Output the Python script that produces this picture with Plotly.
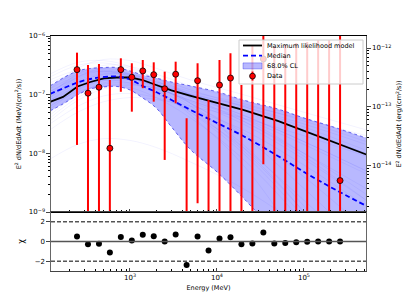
import numpy as np
import plotly.graph_objects as go
from plotly.subplots import make_subplots

MEV_TO_ERG = 1.602176634e-6

# ---- data points (MeV ; MeV cm^-2 s^-1) ----
energy = [246, 329, 440, 587, 785, 1050, 1403, 1875, 2506, 3350, 4477, 5984, 7998,
          10690, 14290, 19100, 25530, 34120, 45600, 60950, 81470, 108900, 145500,
          194500, 260000]
flux = [2.67e-7, 1.06e-7, 1.34e-7, 1.22e-8, 2.67e-7, 1.98e-7, 2.54e-7, 2.19e-7,
        1.26e-7, 2.23e-7, 1e-11, 1.73e-7, 1e-11, 1.46e-7, 1.92e-7, 1e-11, 1e-11,
        4.06e-7, 1e-11, 1e-11, 1e-11, 1e-11, 1e-11, 1e-11, 3.43e-9]
flux_hi = [5.20e-7, 3.21e-7, 3.33e-7, 1.78e-7, 4.17e-7, 3.43e-7, 3.90e-7, 3.56e-7,
           2.47e-7, 3.65e-7, 3.96e-8, 3.43e-7, 8.13e-8, 3.90e-7, 5.07e-7, 1.46e-7,
           7.0e-7, 1.1e-6, 6.5e-7, 7.0e-7, 7.6e-7, 7.9e-7, 8.5e-7, 8.5e-7, 1.1e-6]
flux_lo = [1.39e-8, 1e-12, 1e-12, 1e-12, 1.12e-7, 5.13e-8, 1.29e-7, 7.60e-8,
           7.72e-9, 7.13e-8, 1e-12, 1.41e-9, 1e-12, 1e-12, 1e-12, 1e-12, 1e-12,
           6.52e-9, 1e-12, 1e-12, 1e-12, 1e-12, 1e-12, 1e-12, 1e-12]
residual = [0.51, -0.27, -0.24, -1.12, 0.47, 0.10, 0.68, 0.54, 0.00, 0.71, -2.40,
            0.51, -0.92, 0.31, 0.44, -0.27, -0.20, 0.92, -0.20, -0.14, -0.07,
            -0.03, 0.0, 0.0, 0.0]

# ---- model curves (log10 of MeV cm^-2 s^-1) ----
curve_energy = [120, 170, 250, 350, 500, 700, 1000, 1400, 2000, 3000, 5000, 10000,
                20000, 50000, 100000, 200000, 520000]
ml_log = [-7.124, -7.039, -6.860, -6.784, -6.724, -6.707, -6.707, -6.750, -6.835,
          -6.928, -7.022, -7.141, -7.261, -7.448, -7.618, -7.797, -8.019]
median_log = [-6.988, -6.894, -6.792, -6.733, -6.698, -6.690, -6.741, -6.852, -6.954,
              -7.090, -7.262, -7.482, -7.704, -8.044, -8.317, -8.572, -8.896]
band_hi_log = [-6.852, -6.716, -6.596, -6.554, -6.537, -6.537, -6.596, -6.664,
               -6.716, -6.784, -6.852, -6.950, -7.090, -7.244, -7.397, -7.533, -7.738]
band_lo_log = [-7.278, -7.158, -7.005, -6.903, -6.869, -6.860, -6.920, -7.056,
               -7.227, -7.550, -7.942, -8.317, -8.760, -9.390, -9.850, -10.327, -10.923]

# ---- posterior sample curves (log10 flux) ----
sample_energy = [120, 250, 500, 1000, 2000, 5000, 20000, 100000, 520000]
sample_log = [
    [-6.90, -6.55, -6.40, -6.42, -6.55, -6.75, -7.00, -7.30, -7.60],
    [-7.00, -6.65, -6.50, -6.52, -6.65, -6.85, -7.10, -7.40, -7.75],
    [-6.95, -6.72, -6.62, -6.65, -6.78, -7.00, -7.40, -8.00, -8.70],
    [-7.10, -6.80, -6.65, -6.66, -6.78, -6.95, -7.15, -7.45, -7.80],
    [-7.05, -6.78, -6.66, -6.70, -6.86, -7.15, -7.70, -8.60, -9.60],
    [-7.20, -6.90, -6.73, -6.72, -6.82, -7.00, -7.25, -7.60, -8.00],
    [-6.85, -6.65, -6.60, -6.70, -6.92, -7.30, -8.00, -9.10, -10.5],
    [-7.25, -6.92, -6.76, -6.74, -6.84, -7.05, -7.35, -7.80, -8.30],
    [-6.80, -6.62, -6.58, -6.66, -6.85, -7.20, -7.85, -8.90, -10.2],
    [-7.35, -7.00, -6.80, -6.75, -6.82, -6.98, -7.20, -7.50, -7.85],
    [-7.15, -6.85, -6.70, -6.72, -6.88, -7.12, -7.50, -8.10, -8.80],
    [-6.75, -6.58, -6.55, -6.65, -6.90, -7.35, -8.20, -9.60, -11.0],
    [-7.45, -7.10, -6.90, -6.84, -6.88, -7.00, -7.18, -7.42, -7.70],
    [-7.00, -6.75, -6.64, -6.68, -6.85, -7.15, -7.65, -8.40, -9.30],
    [-7.60, -7.30, -7.12, -7.05, -7.08, -7.20, -7.40, -7.70, -8.05],
    [-8.10, -7.85, -7.75, -7.78, -7.90, -8.15, -8.60, -9.30, -10.2],
    [-6.65, -6.45, -6.42, -6.52, -6.75, -7.15, -7.90, -9.00, -10.4],
    [-7.10, -6.86, -6.76, -6.80, -6.98, -7.30, -7.90, -8.80, -9.80],
    [-7.30, -6.98, -6.82, -6.80, -6.90, -7.10, -7.45, -8.00, -8.60],
    [-6.95, -6.70, -6.60, -6.64, -6.80, -7.05, -7.45, -8.05, -8.80],
    [-7.50, -7.20, -7.02, -6.98, -7.05, -7.25, -7.60, -8.20, -8.90],
    [-6.70, -6.50, -6.46, -6.55, -6.72, -7.00, -7.35, -7.80, -8.30],
    [-7.05, -6.70, -6.55, -6.58, -6.72, -6.92, -7.20, -7.55, -7.95],
    [-7.20, -6.95, -6.85, -6.88, -7.05, -7.40, -8.10, -9.20, -10.6],
    [-6.90, -6.68, -6.60, -6.68, -6.88, -7.25, -7.95, -9.00, -10.3],
    [-7.40, -7.05, -6.86, -6.82, -6.90, -7.10, -7.40, -7.85, -8.35],
]

chi_solid = [0]
chi_dashed = [-2, 2]

x_range_log = [2.092, 5.713]
y_range_log = [-9, -6]
chi_range = [-3, 3]

flux_tickvals = [1e-9, 1e-8, 1e-7, 1e-6]
flux_ticktext = ["10<sup>−9</sup>", "10<sup>−8</sup>", "10<sup>−7</sup>", "10<sup>−6</sup>"]
erg_tickvals = [1e-14, 1e-13, 1e-12]
erg_ticktext = ["10<sup>−14</sup>", "10<sup>−13</sup>", "10<sup>−12</sup>"]
energy_tickvals = [1e3, 1e4, 1e5]
energy_ticktext = ["10<sup>3</sup>", "10<sup>4</sup>", "10<sup>5</sup>"]
chi_tickvals = [-2, 0, 2]

legend_labels = ["Maximum likelihood model", "Median", "68.0% CL", "Data"]


def minor_log_ticks(e0, e1):
    return [m * 10.0 ** e for e in range(e0, e1) for m in range(2, 10)]


energy_minor = minor_log_ticks(2, 6)
flux_minor = minor_log_ticks(-9, -6)
erg_minor = minor_log_ticks(-15, -11)

FONT = "DejaVu Sans"
TICK = dict(family=FONT, size=7, color="black")
TITLE = dict(family=FONT, size=6.5, color="black")

fig = make_subplots(rows=2, cols=1, shared_xaxes=True, vertical_spacing=0,
                    row_heights=[176, 59],
                    specs=[[{"secondary_y": True}], [{}]])

for s in sample_log:
    fig.add_trace(go.Scatter(x=sample_energy, y=np.power(10.0, s), mode="lines",
                             line=dict(color="rgba(0,0,255,0.09)", width=0.6, shape="spline"),
                             showlegend=False, hoverinfo="skip"), row=1, col=1)

fig.add_trace(go.Scatter(x=curve_energy, y=np.power(10.0, band_lo_log), mode="lines",
                         line=dict(color="rgba(0,0,220,0.8)", width=0.7, dash="dot", shape="spline"),
                         showlegend=False, hoverinfo="skip"), row=1, col=1)
fig.add_trace(go.Scatter(x=curve_energy, y=np.power(10.0, band_hi_log), mode="lines",
                         fill="tonexty", fillcolor="rgba(0,0,255,0.28)",
                         line=dict(color="rgba(0,0,220,0.8)", width=0.7, dash="dot", shape="spline"),
                         showlegend=False), row=1, col=1)
fig.add_trace(go.Scatter(x=curve_energy, y=np.power(10.0, ml_log), mode="lines",
                         line=dict(color="black", width=1.8), showlegend=False), row=1, col=1)
fig.add_trace(go.Scatter(x=curve_energy, y=np.power(10.0, median_log), mode="lines",
                         line=dict(color="blue", width=1.8, dash="5px,3px", shape="spline"),
                         showlegend=False), row=1, col=1)

f = np.array(flux)
fig.add_trace(go.Scatter(x=energy, y=flux, mode="markers",
                         marker=dict(color="red", size=6, line=dict(color="black", width=0.8)),
                         error_y=dict(type="data", symmetric=False,
                                      array=np.array(flux_hi) - f,
                                      arrayminus=f - np.array(flux_lo),
                                      color="red", thickness=2, width=0),
                         showlegend=False), row=1, col=1)

# erg-scaled twin of the maximum likelihood curve, to carry the right axis
fig.add_trace(go.Scatter(x=curve_energy, y=np.power(10.0, ml_log) * MEV_TO_ERG, mode="lines",
                         line=dict(width=0), opacity=0, showlegend=False, hoverinfo="skip"),
              row=1, col=1, secondary_y=True)

fig.add_trace(go.Scatter(x=energy, y=residual, mode="markers",
                         marker=dict(color="black", size=6), showlegend=False), row=2, col=1)

for v in chi_solid:
    fig.add_hline(y=v, line=dict(color="#555555", width=1.5), row=2, col=1)
for v in chi_dashed:
    fig.add_hline(y=v, line=dict(color="black", width=1, dash="4px,2px"), row=2, col=1)

# ---- hand-built legend (paper coordinates of the plotting area) ----
W, H, L, T = 407, 305, 51, 36
PW, PH = 315, 235


def px(x):
    return (x - L) / PW


def py(y):
    return (T + PH - y) / PH


fig.add_shape(type="rect", xref="paper", yref="paper", x0=px(239), x1=px(363),
              y0=py(84), y1=py(40), fillcolor="rgba(255,255,255,0.8)",
              line=dict(color="#cccccc", width=1), layer="above")
rows_y = [45.5, 55.7, 65.9, 76.1]
fig.add_shape(type="line", xref="paper", yref="paper", x0=px(243), x1=px(262),
              y0=py(rows_y[0]), y1=py(rows_y[0]), line=dict(color="black", width=1.8), layer="above")
fig.add_shape(type="line", xref="paper", yref="paper", x0=px(243), x1=px(262),
              y0=py(rows_y[1]), y1=py(rows_y[1]), line=dict(color="blue", width=1.8, dash="5px,3px"),
              layer="above")
fig.add_shape(type="rect", xref="paper", yref="paper", x0=px(243), x1=px(262),
              y0=py(rows_y[2] + 3), y1=py(rows_y[2] - 3), fillcolor="rgba(0,0,255,0.28)",
              line=dict(color="rgba(0,0,220,0.5)", width=0.6), layer="above")
fig.add_shape(type="line", xref="paper", yref="paper", x0=px(252.5), x1=px(252.5),
              y0=py(rows_y[3] + 4.5), y1=py(rows_y[3] - 4.5), line=dict(color="red", width=2),
              layer="above")
fig.add_shape(type="circle", xref="paper", yref="paper", x0=px(249.6), x1=px(255.4),
              y0=py(rows_y[3] + 2.9), y1=py(rows_y[3] - 2.9), fillcolor="red",
              line=dict(color="black", width=0.8), layer="above")
for lab, yy in zip(legend_labels, rows_y):
    fig.add_annotation(xref="paper", yref="paper", x=px(265), y=py(yy), text=lab,
                       showarrow=False, xanchor="left", yanchor="middle",
                       font=dict(family=FONT, size=6.5, color="black"))


def minor(vals, direction):
    return dict(tickmode="array", tickvals=vals, ticks=direction, ticklen=2,
                tickcolor="black", tickwidth=0.6, showgrid=False)


fig.update_layout(
    width=W, height=H,
    margin=dict(l=51, r=41, t=36, b=34, autoexpand=False),
    paper_bgcolor="white", plot_bgcolor="white",
    font=dict(family=FONT, size=6.5, color="black"),
    showlegend=False,
    xaxis=dict(type="log", range=x_range_log, domain=[0, 1], showline=True, mirror=True,
               linecolor="black", linewidth=1, ticks="inside", ticklen=3.5,
               tickvals=energy_tickvals, showticklabels=False, showgrid=False,
               minor=minor(energy_minor, "inside"), automargin=False),
    xaxis2=dict(type="log", range=x_range_log, domain=[0, 1], showline=True, mirror=True,
                linecolor="#444444", linewidth=1, ticks="inside", ticklen=3.5,
                tickvals=energy_tickvals, ticktext=energy_ticktext, showgrid=False,
                tickfont=TICK, minor=minor(energy_minor, "inside"), automargin=False,
                title=dict(text="Energy (MeV)", font=TITLE, standoff=4)),
    yaxis=dict(type="log", range=y_range_log, tickvals=flux_tickvals, ticktext=flux_ticktext,
               showline=True, linecolor="#666666", linewidth=1.2, ticks="outside", ticklen=3.5,
               showgrid=False, tickfont=TICK, minor=minor(flux_minor, "outside"),
               automargin=False,
               title=dict(text="E<sup>2</sup> dN/dEdAdt (MeV/(cm<sup>2</sup>/s))", font=TITLE,
                          standoff=6)),
    yaxis2=dict(type="log",
                range=[y_range_log[0] + np.log10(MEV_TO_ERG), y_range_log[1] + np.log10(MEV_TO_ERG)],
                tickvals=erg_tickvals, ticktext=erg_ticktext, showline=True, linecolor="#666666",
                linewidth=1.2, ticks="outside", ticklen=3.5, showgrid=False, tickfont=TICK,
                minor=minor(erg_minor, "outside"), automargin=False, anchor="x",
                title=dict(text="E<sup>2</sup> dN/dEdAdt (erg/(cm<sup>2</sup>/s))", font=TITLE,
                           standoff=6)),
    yaxis3=dict(range=chi_range, tickvals=chi_tickvals, showline=True, mirror=True,
                linecolor="#666666", linewidth=1.2, ticks="outside", ticklen=3.5,
                zeroline=False, showgrid=False, tickfont=TICK, automargin=False,
                title=dict(text="χ", font=dict(family=FONT, size=8, color="black"), standoff=8)),
)

fig.write_html("out.html", config={"displayModeBar": False},
               post_script="document.body.style.margin='0px';document.body.style.padding='0px';")
